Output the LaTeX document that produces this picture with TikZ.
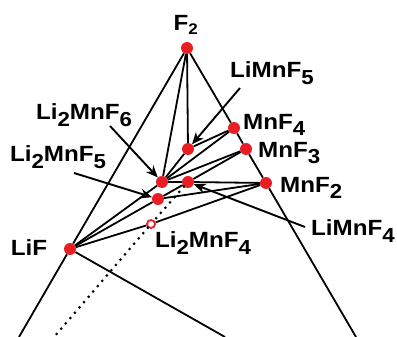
\documentclass[tikz,border=0pt]{standalone}
\usepackage{fontspec}
\usepackage{graphicx}
\setmainfont{Liberation Sans}[FakeStretch=1.1]
\usepackage{xcolor}
\usetikzlibrary{arrows.meta}

\definecolor{dotred}{RGB}{232,30,36}
% lowered, nearly full size index as printed in the figure
\newcommand{\lowsub}[1]{\raisebox{-0.3em}{\scalebox{0.92}{#1}}}

\begin{document}
\begin{tikzpicture}[x=1pt, y=-1pt,
    phase/.style={circle, fill=dotred, inner sep=0pt, minimum size=12pt},
    unstable/.style={circle, draw=dotred, fill=white, line width=1.8pt, inner sep=0pt, minimum size=8pt},
    lbl/.style={font=\fontsize{22}{26}\selectfont\bfseries, inner sep=0pt},
    tie/.style={line width=1.8pt},
    pointer/.style={line width=1.9pt, -{Stealth[length=12pt,width=10pt]}}]
    \useasboundingbox (0,0) rectangle (397,337);

    % Phases
    \node[phase] (f2) at (187,48) {};
    \node[phase] (lif) at (70,249) {};
    \node[phase] (mnf4) at (234,128) {};
    \node[phase] (mnf3) at (246,149) {};
    \node[phase] (mnf2) at (266,183) {};
    \node[phase] (limnf5) at (188,149) {};
    \node[phase] (li2mnf6) at (162,182) {};
    \node[phase] (limnf4) at (188,182) {};
    \node[phase] (li2mnf5) at (158,199) {};
    \node[unstable] (li2mnf4) at (151,224) {};

    % Ends of the open lines at the lower edge
    \coordinate (leftend) at (19,337);
    \coordinate (rightend) at (356,337);
    \coordinate (lifend) at (225,337);
    \coordinate (dotend) at (54,337);

    % Triangle sides
    \draw[tie] (f2) -- (lif) -- (leftend);
    \draw[tie] (f2) -- (mnf4) -- (mnf3) -- (mnf2) -- (rightend);
    \draw[tie] (lif) -- (lifend);

    % Tie lines
    \draw[tie] (f2) -- (limnf5);
    \draw[tie] (f2) -- (li2mnf6);
    \draw[tie] (limnf5) -- (mnf4);
    \draw[tie] (li2mnf6) -- (limnf5);
    \draw[tie] (li2mnf6) -- (mnf4);
    \draw[tie] (li2mnf6) -- (mnf3);
    \draw[tie] (li2mnf6) -- (limnf4) -- (mnf2);
    \draw[tie] (lif) -- (li2mnf6);
    \draw[tie] (lif) -- (li2mnf5) -- (limnf4) -- (mnf3);
    \draw[tie] (li2mnf5) -- (mnf2);
    \draw[tie] (lif) -- (li2mnf4) -- (mnf2);
    \draw[line width=3pt, line cap=round, dash pattern=on 0pt off 7pt] (limnf4) -- (li2mnf4) -- (dotend);

    % Labels
    \node[lbl] (f2lbl) at (186,25) {F\textsubscript{2}};
    \node[lbl] (liflbl) at (29,248) {LiF};
    \node[lbl, anchor=west] (mnf4lbl) at (243,125) {MnF\lowsub{4}};
    \node[lbl, anchor=west] (mnf3lbl) at (258,153) {MnF\lowsub{3}};
    \node[lbl, anchor=west] (mnf2lbl) at (280,188) {MnF\lowsub{2}};
    \node[lbl] (limnf5lbl) at (272,73) {LiMnF\lowsub{5}};
    \node[lbl] (li2mnf6lbl) at (84,115) {Li\lowsub{2}MnF\lowsub{6}};
    \node[lbl] (li2mnf5lbl) at (58,157) {Li\lowsub{2}MnF\lowsub{5}};
    \node[lbl] (limnf4lbl) at (353,231) {LiMnF\lowsub{4}};
    \node[lbl] (li2mnf4lbl) at (203,243) {Li\lowsub{2}MnF\lowsub{4}};

    % Pointers
    \coordinate (p5) at (240,88);
    \coordinate (p6) at (110,126);
    \coordinate (p25) at (74,173);
    \coordinate (p4) at (305,227);
    \draw[pointer] (p5) -- (limnf5);
    \draw[pointer] (p6) -- (li2mnf6);
    \draw[pointer] (p25) -- (li2mnf5);
    \draw[pointer] (p4) -- (limnf4);
\end{tikzpicture}
\end{document}
